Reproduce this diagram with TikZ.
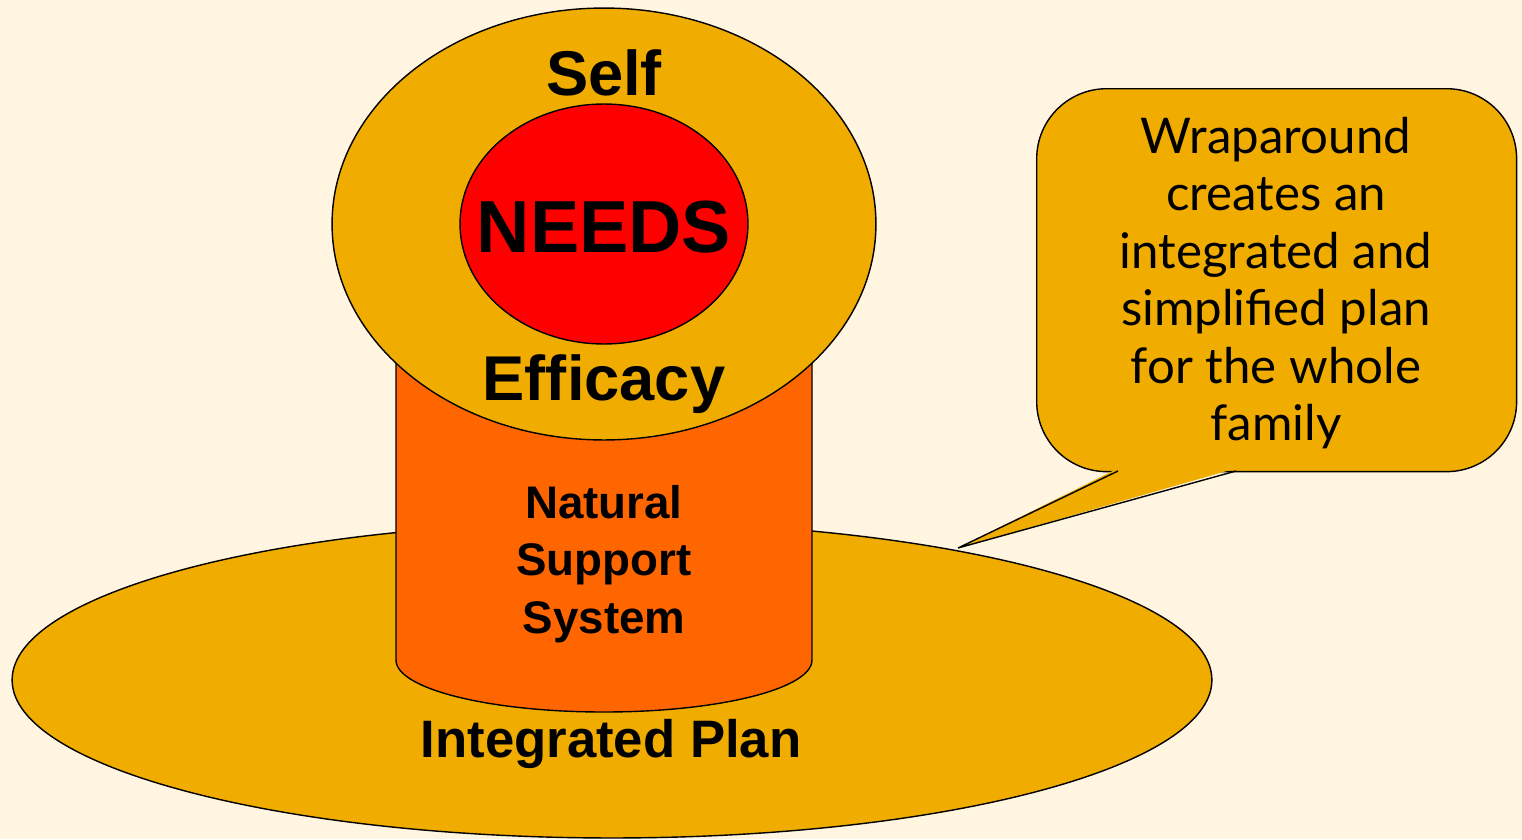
\documentclass[tikz,border=0pt]{standalone}
\usepackage{fontspec}
\setmainfont{Liberation Sans}
\newfontfamily\notefont{Lato}
\usetikzlibrary{shapes.geometric}

\definecolor{paper}{HTML}{FFF5E0}
\definecolor{gold}{HTML}{F0AD00}
\definecolor{pillar}{HTML}{FF6600}
\definecolor{core}{HTML}{FF0000}

\begin{document}
\begin{tikzpicture}[x=0.02cm, y=-0.02cm, line width=0.8pt,
      blob/.style = { ellipse, draw, inner sep=0pt},
      bold/.style = { font=\bfseries, align=center, inner sep=0pt}]

  % Page
  \fill[paper] (0,0) rectangle (1522,839);
  \useasboundingbox (0,0) rectangle (1522,839);

  % Plan
  \node[blob,fill=gold,minimum width=24cm,minimum height=6.32cm] (plan) at (612,680) {};

  % Support pillar
  \coordinate (pilTL) at (396,360);
  \coordinate (pilTR) at (812,360);
  \filldraw[fill=pillar] (pilTL) -- (396,660) arc[start angle=180, end angle=360,
      x radius=208, y radius=-52] -- (pilTR) -- cycle;

  % Self efficacy
  \node[blob,fill=gold,minimum width=10.88cm,minimum height=8.64cm] (self) at (604,224) {};
  \node[blob,fill=core,minimum width=5.76cm,minimum height=4.8cm] (needs) at (604,224) {};

  % Texts
  \node[bold,font=\bfseries\fontsize{36}{40}\selectfont] (selfTxt) at (604,73) {Self};
  \node[bold,font=\bfseries\fontsize{42}{46}\selectfont] (needsTxt) at (604,227) {NEEDS};
  \node[bold,font=\bfseries\fontsize{36}{40}\selectfont] (effTxt) at (604,384) {Efficacy};
  \node[bold,font=\bfseries\fontsize{26}{32.9}\selectfont] (supTxt) at (604,564)
      {Natural\\Support\\System};
  \node[bold,font=\bfseries\fontsize{30}{34}\selectfont] (planTxt) at (611,744) {Integrated Plan};

  % Callout
  \node[draw,fill=gold,rounded corners=1.4cm,minimum width=9.6cm,minimum height=7.66cm,
      anchor=north west] (note) at (1036,88) {};
  \coordinate (tip) at (958,548);
  \coordinate (baseL) at (1118,471);
  \coordinate (baseR) at (1236,471);
  \fill[gold] ([yshift=1.5pt]baseL) -- (tip) -- ([yshift=1.5pt]baseR) -- cycle;
  \draw[line join=miter] (baseL) -- (tip) -- (baseR);
  \node[align=center,inner sep=0pt,font=\notefont\fontsize{28}{32.7}\selectfont]
      (noteTxt) at (1276,283) {Wraparound\\creates an\\integrated and\\simplified plan\\for the whole\\family};

\end{tikzpicture}
\end{document}
